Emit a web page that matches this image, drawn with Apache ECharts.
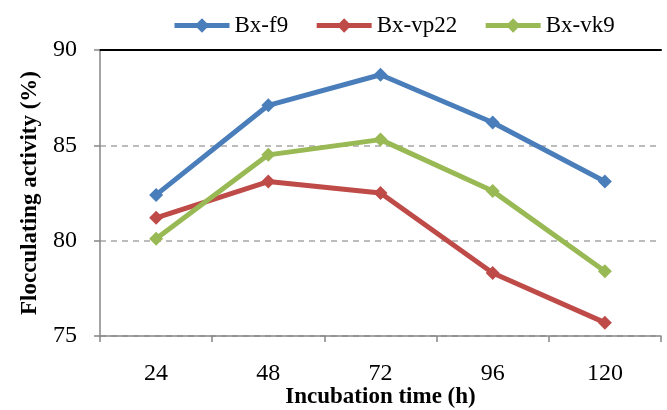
<!DOCTYPE html>
<html>
<head>
<meta charset="utf-8">
<script src="https://cdn.jsdelivr.net/npm/echarts@6/dist/echarts.min.js"></script>
<style>
  html, body { margin: 0; padding: 0; background: #fff; }
  #chart { width: 667px; height: 410px; }
</style>
</head>
<body>
<div id="chart"></div>
<script>
const hours = ["24", "48", "72", "96", "120"];
const bxF9 = [82.4, 87.1, 88.7, 86.2, 83.1];
const bxVp22 = [81.2, 83.1, 82.5, 78.3, 75.7];
const bxVk9 = [80.1, 84.5, 85.3, 82.6, 78.4];

const serif = "Liberation Serif";

const mkSeries = (name, data, color) => ({
  name: name,
  type: "line",
  data: data,
  symbol: "diamond",
  symbolSize: 14,
  lineStyle: { width: 5, color: color },
  itemStyle: { color: color },
  emphasis: { disabled: true },
});

const chart = echarts.init(document.getElementById("chart"));
const option = {
  animation: false,
  legend: {
    top: 9,
    left: 167,
    itemWidth: 55,
    itemHeight: 18,
    itemGap: 26,
    lineStyle: { width: 5 },
    textStyle: { fontFamily: serif, fontSize: 23, color: "#000" },
    data: ["Bx-f9", "Bx-vp22", "Bx-vk9"],
  },
  grid: { left: 100, top: 50, right: 6, bottom: 74, outerBoundsMode: "none", containLabel: false },
  xAxis: [
    {
      type: "category",
      data: hours,
      boundaryGap: true,
      name: "Incubation time (h)",
      nameLocation: "middle",
      nameGap: 50,
      nameMoveOverlap: false,
      nameTextStyle: { fontFamily: serif, fontSize: 23, fontWeight: "bold", color: "#000" },
      axisLine: { lineStyle: { color: "#868686", width: 1.5 } },
      axisTick: { show: true, length: 6, lineStyle: { color: "#868686", width: 1.5 } },
      axisLabel: { fontFamily: serif, fontSize: 24, color: "#000", margin: 26 },
    },
    {
      type: "category",
      data: hours,
      position: "top",
      axisLine: { lineStyle: { color: "#000", width: 2 } },
      axisTick: { show: false },
      axisLabel: { show: false },
    },
  ],
  yAxis: {
    type: "value",
    min: 75,
    max: 90,
    interval: 5,
    name: "Flocculating activity (%)",
    nameLocation: "middle",
    nameGap: 58,
    nameMoveOverlap: false,
    nameTextStyle: { fontFamily: serif, fontSize: 23, fontWeight: "bold", color: "#000" },
    axisLine: { show: true, lineStyle: { color: "#868686", width: 1.5 } },
    axisTick: { show: true, length: 6, lineStyle: { color: "#868686", width: 1.5 } },
    axisLabel: { fontFamily: serif, fontSize: 24, color: "#000", margin: 23 },
    splitLine: { show: true, lineStyle: { color: "#a6a6a6", type: [6, 5], width: 1.5 } },
  },
  series: [
    mkSeries("Bx-f9", bxF9, "#4a7ebb"),
    mkSeries("Bx-vp22", bxVp22, "#be4b48"),
    mkSeries("Bx-vk9", bxVk9, "#98b954"),
  ],
};
option && chart.setOption(option);
</script>
</body>
</html>
